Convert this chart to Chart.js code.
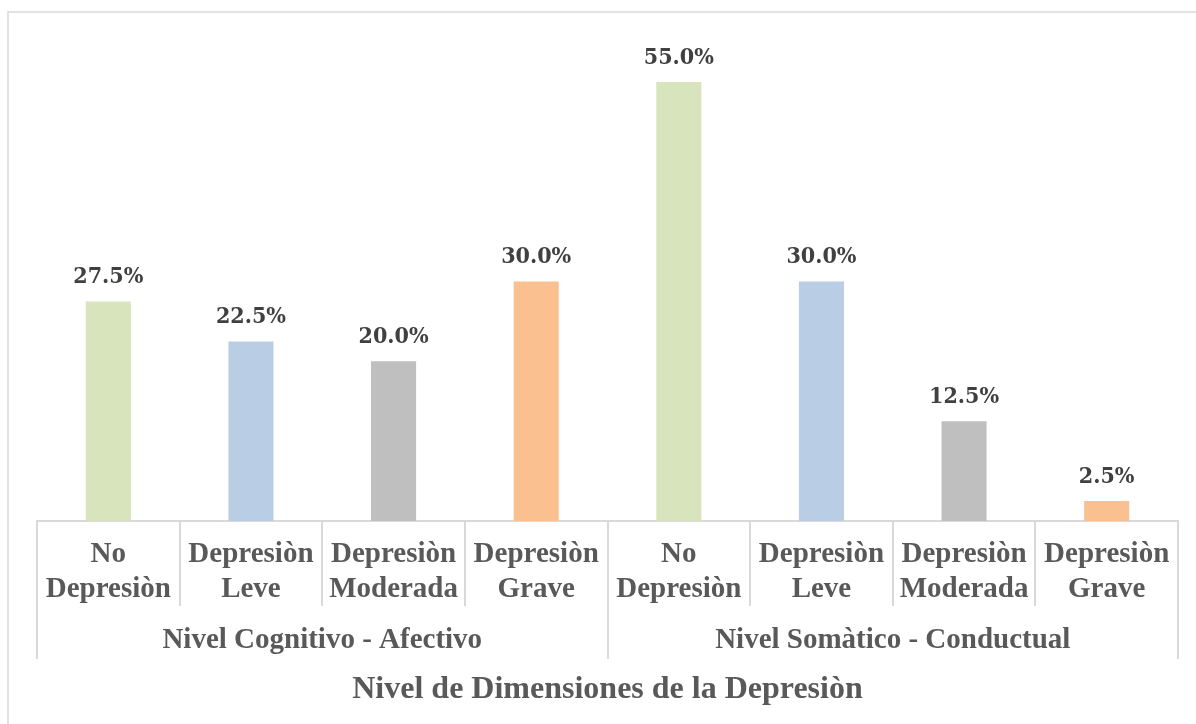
<!DOCTYPE html>
<html>
<head>
<meta charset="utf-8">
<script src="https://cdn.jsdelivr.net/npm/chart.js@4"></script>
<style>
  html, body { margin: 0; padding: 0; background: #ffffff; }
  canvas { display: block; }
</style>
</head>
<body>
<canvas id="chart" width="1196" height="724"></canvas>
<script>
// Depression level categories (two-line tick labels), repeated for each dimension
const categories = [
  ['No', 'Depresiòn'], ['Depresiòn', 'Leve'], ['Depresiòn', 'Moderada'], ['Depresiòn', 'Grave'],
  ['No', 'Depresiòn'], ['Depresiòn', 'Leve'], ['Depresiòn', 'Moderada'], ['Depresiòn', 'Grave']
];
const groups = ['Nivel Cognitivo - Afectivo', 'Nivel Somàtico - Conductual'];
const groupSize = 4;
// Percentage of respondents per level
const values = [27.5, 22.5, 20.0, 30.0, 55.0, 30.0, 12.5, 2.5];
const levelColors = ['#d8e4bc', '#b9cde5', '#bfbfbf', '#fac090'];
const axisTitle = 'Nivel de Dimensiones de la Depresiòn';

const SERIF = "'Liberation Serif', 'Times New Roman', serif";
const LABEL_FONT = "'DejaVu Serif Condensed', 'DejaVu Serif', serif";
const TEXT_COLOR = '#595959';
const LINE_COLOR = '#d9d9d9';

// Outer frame around the whole chart
const framePlugin = {
  id: 'frame',
  beforeDraw(chart) {
    const ctx = chart.ctx;
    ctx.save();
    ctx.fillStyle = '#ffffff';
    ctx.fillRect(0, 0, chart.width, chart.height);
    ctx.strokeStyle = LINE_COLOR;
    ctx.lineWidth = 1.5;
    ctx.strokeRect(8, 12, chart.width + 20, chart.height + 20);
    ctx.restore();
  }
};

// Category dividers and group labels below the x axis
const groupAxisPlugin = {
  id: 'groupAxis',
  afterDraw(chart) {
    const xs = chart.scales.x;
    const ctx = chart.ctx;
    const n = categories.length;
    const axisY = xs.top;
    const step = xs.getPixelForValue(1) - xs.getPixelForValue(0);
    ctx.save();
    ctx.strokeStyle = LINE_COLOR;
    ctx.lineWidth = 2;
    for (let i = 0; i <= n; i++) {
      const px = Math.round(xs.getPixelForValue(0) - step / 2 + i * step);
      const isGroupEdge = i % groupSize === 0;
      ctx.beginPath();
      ctx.moveTo(px, axisY);
      ctx.lineTo(px, axisY + (isGroupEdge ? 138 : 85));
      ctx.stroke();
    }
    ctx.fillStyle = TEXT_COLOR;
    ctx.font = 'bold 29px ' + SERIF;
    ctx.textAlign = 'center';
    ctx.textBaseline = 'middle';
    groups.forEach((g, gi) => {
      const first = xs.getPixelForValue(gi * groupSize);
      const last = xs.getPixelForValue(gi * groupSize + groupSize - 1);
      ctx.fillText(g, (first + last) / 2, axisY + 120);
    });
    ctx.restore();
  }
};

// Value labels above each bar
const valueLabelPlugin = {
  id: 'valueLabels',
  afterDatasetsDraw(chart) {
    const ctx = chart.ctx;
    const meta = chart.getDatasetMeta(0);
    ctx.save();
    ctx.fillStyle = '#404040';
    ctx.font = 'bold 23px ' + LABEL_FONT;
    ctx.textAlign = 'center';
    ctx.textBaseline = 'middle';
    meta.data.forEach((bar, i) => {
      ctx.fillText(values[i].toFixed(1) + '%', bar.x, bar.y - 24);
    });
    ctx.restore();
  }
};

new Chart(document.getElementById('chart'), {
  type: 'bar',
  data: {
    labels: categories,
    datasets: [{
      data: values,
      backgroundColor: values.map((_, i) => levelColors[i % groupSize]),
      borderWidth: 0,
      barPercentage: 0.316,
      categoryPercentage: 1.0
    }]
  },
  options: {
    responsive: false,
    animation: false,
    layout: { padding: { left: 37, right: 18, top: 42, bottom: 15 } },
    plugins: {
      legend: { display: false },
      tooltip: { enabled: false }
    },
    scales: {
      x: {
        type: 'category',
        grid: { display: false, drawTicks: false },
        border: { display: true, color: LINE_COLOR, width: 2 },
        ticks: {
          color: TEXT_COLOR,
          font: { family: SERIF, size: 29, weight: 'bold', lineHeight: 1.2 },
          padding: 16,
          maxRotation: 0,
          minRotation: 0,
          autoSkip: false
        },
        title: {
          display: true,
          text: axisTitle,
          color: TEXT_COLOR,
          font: { family: SERIF, size: 32, weight: 'bold', lineHeight: 1.2 },
          padding: { top: 48, bottom: 0 }
        }
      },
      y: {
        display: false,
        min: 0,
        max: 60
      }
    }
  },
  plugins: [framePlugin, groupAxisPlugin, valueLabelPlugin]
});
</script>
</body>
</html>
